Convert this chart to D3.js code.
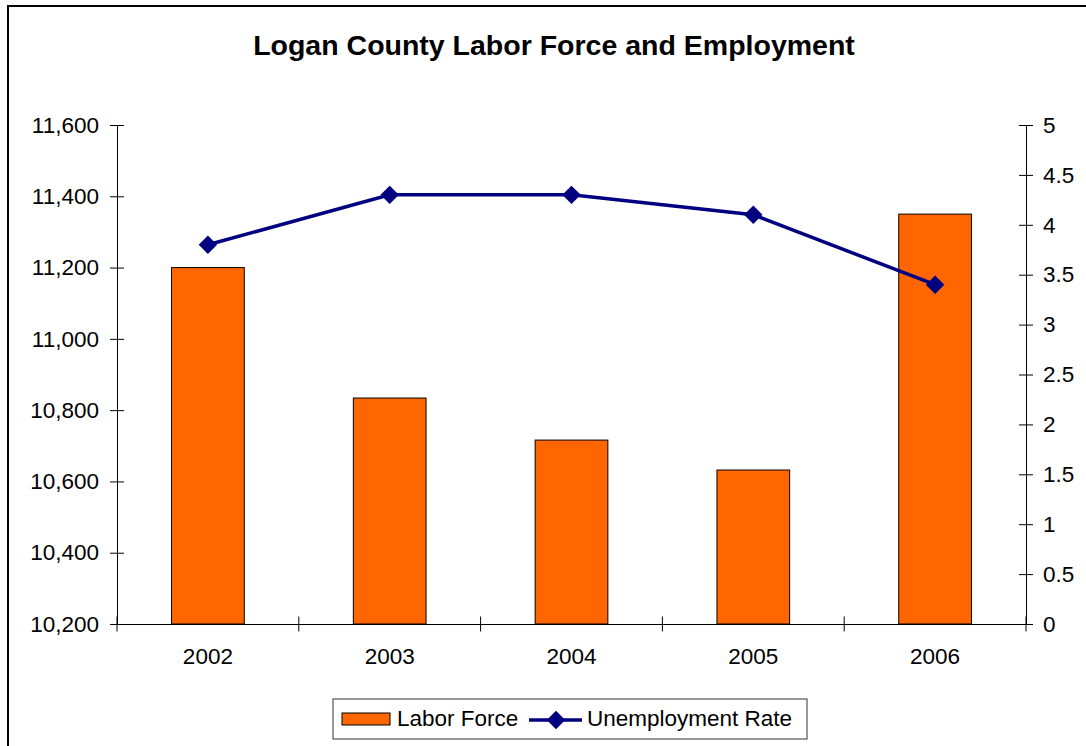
<!DOCTYPE html>
<html>
<head>
<meta charset="utf-8">
<script src="https://cdn.jsdelivr.net/npm/d3@7"></script>
<style>
  body { margin: 0; background: #fff; }
  svg text { font-family: "Liberation Sans", Arial, sans-serif; fill: #000; }
</style>
</head>
<body>
<svg id="chart" width="1086" height="746"></svg>
<script>
'use strict';

// data
var years = ['2002', '2003', '2004', '2005', '2006'];
var laborForce = [11200, 10834, 10716, 10632, 11350];
var unemploymentRate = [3.8, 4.3, 4.3, 4.1, 3.4];
var leftTicks = [10200, 10400, 10600, 10800, 11000, 11200, 11400, 11600];
var rightTicks = [0, 0.5, 1, 1.5, 2, 2.5, 3, 3.5, 4, 4.5, 5];

var title = 'Logan County Labor Force and Employment';
var seriesNames = ['Labor Force', 'Unemployment Rate'];

var svg = d3.select('#chart');

var plotLeft = 117, plotRight = 1026, plotTop = 125, plotBottom = 624;

// outer chart frame
svg.append('rect')
  .attr('x', 8).attr('y', 6)
  .attr('width', 1100).attr('height', 800)
  .attr('fill', 'none')
  .attr('stroke', '#000')
  .attr('stroke-width', 2);

svg.append('text')
  .attr('x', 554).attr('y', 55)
  .attr('text-anchor', 'middle')
  .style('font-size', '28.5px')
  .style('font-weight', 'bold')
  .text(title);

var x = d3.scaleBand().domain(years).range([plotLeft, plotRight]).padding(0);
var yL = d3.scaleLinear().domain([10200, 11600]).range([plotBottom, plotTop]);
var yR = d3.scaleLinear().domain([0, 5]).range([plotBottom, plotTop]);

var barW = x.bandwidth() * 0.4;

// bars
svg.append('g').selectAll('rect')
  .data(years)
  .enter().append('rect')
    .attr('x', function(d) { return x(d) + x.bandwidth() / 2 - barW / 2; })
    .attr('y', function(d, i) { return yL(laborForce[i]); })
    .attr('width', barW)
    .attr('height', function(d, i) { return yL(10200) - yL(laborForce[i]); })
    .attr('fill', '#FF6600')
    .attr('stroke', '#000')
    .attr('stroke-width', 1);

// left axis
var gL = svg.append('g')
  .attr('transform', 'translate(' + plotLeft + ',0)')
  .call(d3.axisLeft(yL).tickValues(leftTicks).tickFormat(d3.format(','))
    .tickSize(7).tickSizeOuter(0).tickPadding(11));
gL.selectAll('.tick line').attr('x1', 7);

// right axis
var gR = svg.append('g')
  .attr('transform', 'translate(' + plotRight + ',0)')
  .call(d3.axisRight(yR).tickValues(rightTicks).tickFormat(d3.format(''))
    .tickSize(7).tickSizeOuter(0).tickPadding(10));
gR.selectAll('.tick line').attr('x1', -7);

// bottom axis: labels at band centres, ticks at band edges
var gB = svg.append('g')
  .attr('transform', 'translate(0,' + plotBottom + ')')
  .call(d3.axisBottom(x).tickSize(0).tickSizeOuter(0).tickPadding(24));

var edges = years.map(function(d) { return x(d); }).concat([x(years[years.length - 1]) + x.bandwidth()]);
gB.selectAll('.edge')
  .data(edges)
  .enter().append('line')
    .attr('class', 'edge')
    .attr('x1', function(d) { return d; })
    .attr('x2', function(d) { return d; })
    .attr('y1', -7.5).attr('y2', 7.5)
    .attr('stroke', '#000');

svg.selectAll('.domain').attr('stroke', '#000');
svg.selectAll('.tick line').attr('stroke', '#000');
svg.selectAll('.tick text').style('font-size', '22.5px').attr('fill', '#000');

// unemployment line
var line = d3.line()
  .x(function(d, i) { return x(years[i]) + x.bandwidth() / 2; })
  .y(function(d) { return yR(d); });

svg.append('path')
  .datum(unemploymentRate)
  .attr('d', line)
  .attr('fill', 'none')
  .attr('stroke', '#000080')
  .attr('stroke-width', 3.5);

var diamond = d3.symbol().type(d3.symbolSquare).size(170);
svg.append('g').selectAll('path')
  .data(unemploymentRate)
  .enter().append('path')
    .attr('d', diamond)
    .attr('transform', function(d, i) {
      return 'translate(' + (x(years[i]) + x.bandwidth() / 2) + ',' + yR(d) + ') rotate(45)';
    })
    .attr('fill', '#000080');

// legend
var lg = svg.append('g');
lg.append('rect')
  .attr('x', 333).attr('y', 699)
  .attr('width', 474).attr('height', 40)
  .attr('fill', '#fff')
  .attr('stroke', '#333')
  .attr('stroke-width', 1);
lg.append('rect')
  .attr('x', 342).attr('y', 713)
  .attr('width', 48).attr('height', 12)
  .attr('fill', '#FF6600')
  .attr('stroke', '#000');
lg.append('text')
  .attr('x', 397).attr('y', 726)
  .style('font-size', '22.5px')
  .text(seriesNames[0]);
lg.append('line')
  .attr('x1', 529).attr('x2', 582)
  .attr('y1', 720).attr('y2', 720)
  .attr('stroke', '#000080')
  .attr('stroke-width', 3.5);
lg.append('path')
  .attr('d', diamond)
  .attr('transform', 'translate(556,720) rotate(45)')
  .attr('fill', '#000080');
lg.append('text')
  .attr('x', 587).attr('y', 726)
  .style('font-size', '22.5px')
  .text(seriesNames[1]);
</script>
</body>
</html>
